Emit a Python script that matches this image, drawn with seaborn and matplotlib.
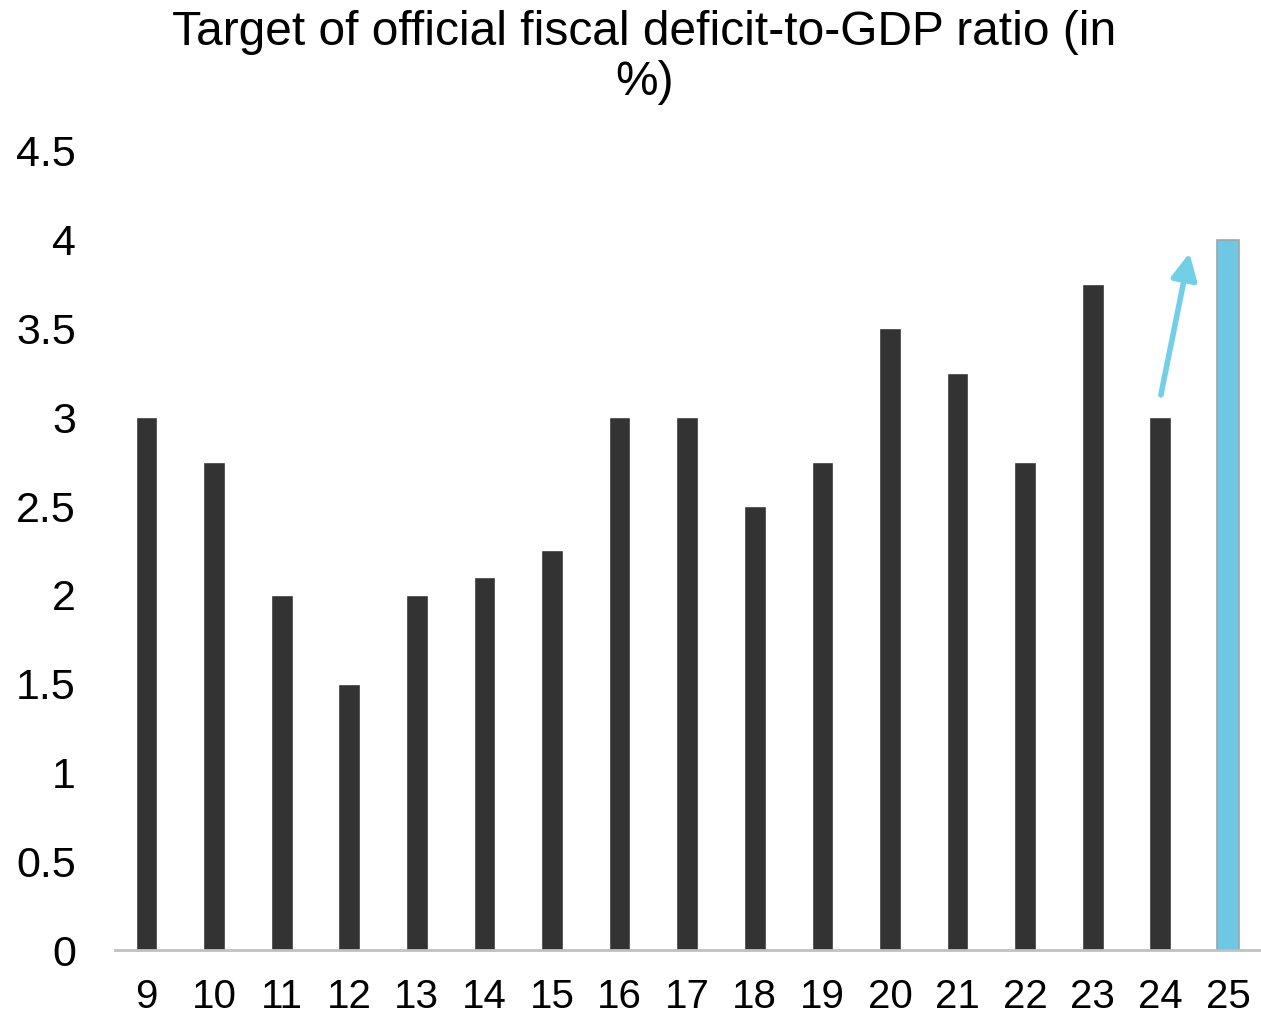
import matplotlib.pyplot as plt
import pandas as pd
import seaborn as sns

# Data
years = ["9", "10", "11", "12", "13", "14", "15", "16", "17",
         "18", "19", "20", "21", "22", "23", "24", "25"]
deficit = [3, 2.75, 2, 1.5, 2, 2.1, 2.25, 3, 3,
           2.5, 2.75, 3.5, 3.25, 2.75, 3.75, 3, 4]
title = "Target of official fiscal deficit-to-GDP ratio (in\n%)"

sns.set_theme(style="white")
plt.rcParams["font.family"] = ["Liberation Sans", "DejaVu Sans"]
plt.rcParams["text.color"] = "black"
plt.rcParams["xtick.color"] = "black"
plt.rcParams["ytick.color"] = "black"

df = pd.DataFrame({"year": years, "deficit": deficit})
colors = ["#333333"] * (len(years) - 1) + ["#6ec8e4"]

fig = plt.figure(figsize=(12.61, 10.19), dpi=100)
ax = fig.add_axes([0.091, 0.0677, 0.909, 0.7843])

sns.barplot(data=df, x="year", y="deficit", hue="year", palette=colors,
            legend=False, width=0.32, saturation=1, ax=ax)

# light edge on the highlighted bar
last = ax.patches[-1]
last.set_edgecolor("#9aa6aa")
last.set_linewidth(1.2)

ax.set_xlim(-0.47, len(years) - 0.51)
ax.set_ylim(0, 4.5)
ax.set_yticks([0, 0.5, 1, 1.5, 2, 2.5, 3, 3.5, 4, 4.5])
ax.set_yticklabels(["0", "0.5", "1", "1.5", "2", "2.5", "3", "3.5", "4", "4.5"])
ax.set_xlabel("")
ax.set_ylabel("")
ax.tick_params(axis="y", labelsize=31, length=0, pad=28)
ax.tick_params(axis="x", labelsize=29, length=0, pad=20)

for side in ["top", "right", "left"]:
    ax.spines[side].set_visible(False)
ax.spines["bottom"].set_color("#c0c0c0")
ax.spines["bottom"].set_linewidth(2)

# arrow from the 24 bar up towards the 25 bar
ax.annotate("", xy=(15.44, 3.94), xytext=(15.0, 3.11),
            arrowprops=dict(arrowstyle="-|>,head_length=1.3,head_width=0.65",
                            color="#72cfe6", lw=4))

fig.text(0.511, 0.99, title, ha="center", va="top", fontsize=34.5,
         linespacing=1.15)

plt.savefig("out.png", dpi=100)
plt.close()
